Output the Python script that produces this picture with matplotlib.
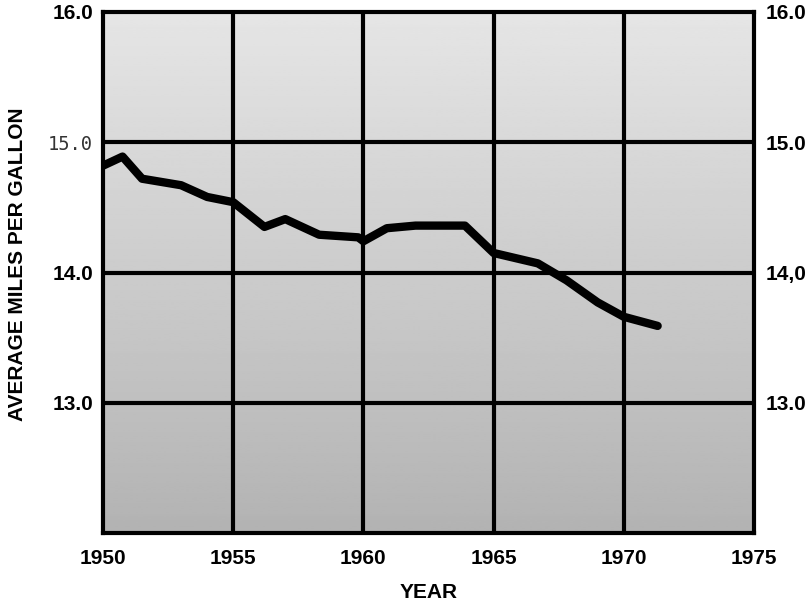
import numpy as np
import matplotlib
matplotlib.use("Agg")
import matplotlib.pyplot as plt

years = [1950, 1950.75, 1951.5, 1953, 1954, 1955, 1956.2, 1957, 1958.3, 1959.8,
         1960, 1960.9, 1962, 1963.9, 1965, 1966.7, 1967.8, 1969, 1970, 1971.3]
mpg = [14.82, 14.89, 14.72, 14.67, 14.58, 14.54, 14.35, 14.41, 14.29, 14.27,
       14.24, 14.34, 14.36, 14.36, 14.15, 14.07, 13.94, 13.77, 13.66, 13.59]

x_ticks = [1950, 1955, 1960, 1965, 1970, 1975]
y_grid = [13.0, 14.0, 15.0]
left_labels = {16.0: "16.0", 15.0: "15.0", 14.0: "14.0", 13.0: "13.0"}
right_labels = {16.0: "16.0", 15.0: "15.0", 14.0: "14,0", 13.0: "13.0"}

bold_fam = "Liberation Sans"
FS = 15

fig = plt.figure(figsize=(8.11, 6.10), dpi=100)
ax = fig.add_axes([103 / 811, 1 - 533 / 610, (754 - 103) / 811, (533 - 12) / 610])
ax.set_xlim(1950, 1975)
ax.set_ylim(12.0, 16.0)

# grey paper background, lighter at the top, darker towards the bottom
grad = np.linspace(0.90, 0.70, 256).reshape(-1, 1)
ax.imshow(grad, extent=[1950, 1975, 12.0, 16.0], cmap="gray", vmin=0, vmax=1,
          aspect="auto", zorder=0, origin="upper")

for xv in x_ticks[1:-1]:
    ax.axvline(xv, color="black", lw=3, zorder=2)
for yv in y_grid:
    ax.axhline(yv, color="black", lw=3, zorder=2)

ax.plot(years, mpg, color="black", lw=6, solid_capstyle="round",
        solid_joinstyle="round", zorder=3)

for s in ax.spines.values():
    s.set_linewidth(3)
ax.set_xticks([])
ax.set_yticks([])

for val, lab in left_labels.items():
    yv = val - 0.015
    if lab == "15.0":
        ax.text(1949.6, yv, lab, ha="right", va="center", fontsize=13.5,
                family="DejaVu Sans Mono", color="#333333", clip_on=False)
    else:
        ax.text(1949.62, yv, lab, ha="right", va="center",
                fontsize=FS, family=bold_fam, weight="bold", clip_on=False)
for val, lab in right_labels.items():
    ax.text(1975.45, val - 0.015, lab, ha="left", va="center",
            fontsize=FS, family=bold_fam, weight="bold", clip_on=False)

for xv in x_ticks:
    ax.text(xv, 11.88, str(xv), ha="center", va="top", fontsize=FS,
            family=bold_fam, weight="bold", clip_on=False)

fig.text(0.5 * (103 + 755) / 811, 1 - 592 / 610, "YEAR", ha="center", va="center",
         fontsize=FS, family=bold_fam, weight="bold")
fig.text(18 / 811, 1 - 264 / 610, "AVERAGE MILES PER GALLON", ha="center",
         va="center", rotation=90, fontsize=FS, family=bold_fam, weight="bold")

fig.savefig("out.png", dpi=100)
